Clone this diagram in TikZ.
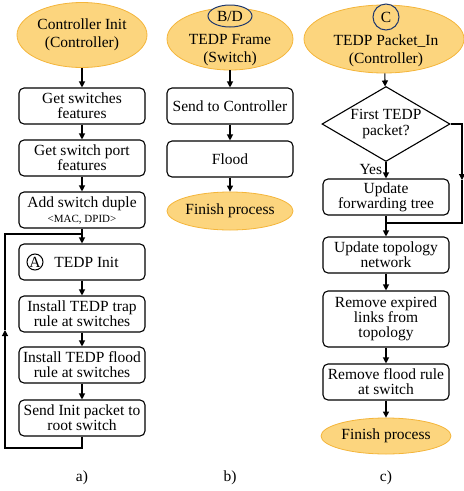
\documentclass[tikz,border=0pt]{standalone}
\usepackage{fontspec}
\setmainfont{Liberation Serif}
\usetikzlibrary{shapes.geometric,arrows.meta}
\definecolor{termfill}{RGB}{252,213,126}
\definecolor{termline}{RGB}{244,181,58}
\definecolor{tagline}{RGB}{31,56,110}
\tikzset{
  proc/.style={draw,rounded corners=5pt,line width=1.1pt,minimum width=126pt,minimum height=36pt,
    align=center,inner sep=1pt,font=\fontsize{15.5}{15}\selectfont},
  term/.style={ellipse,draw=termline,fill=termfill,line width=0.8pt,align=center,inner sep=0pt,
    font=\fontsize{15.5}{18}\selectfont},
  decide/.style={diamond,draw,line width=1.1pt,aspect=1.7,inner sep=0pt,minimum width=128pt,
    minimum height=75pt,align=center,font=\fontsize{15.5}{16}\selectfont},
  arr/.style={-{Triangle[length=6pt,width=6pt]},line width=1.1pt},
  link/.style={line width=1.1pt},
  tag/.style={draw=tagline,line width=1pt,inner sep=0pt,font=\fontsize{15.5}{15}\selectfont},
  txt/.style={align=center,font=\fontsize{15.5}{18}\selectfont},
}
\begin{document}
\begin{tikzpicture}[x=1pt,y=-1pt]
  \useasboundingbox (0,0) rectangle (464,491);
  % a) controller init
  \node[term,minimum width=130pt,minimum height=65pt] (cinit) at (82,35) {Controller Init\\(Controller)};
  \node[proc] (feat)  at (82,106) {Get switches\\features};
  \node[proc] (port)  at (82,158) {Get switch port\\features};
  \node[proc] (duple) at (82,210) {Add switch duple\\{\fontsize{11}{12}\selectfont <MAC, DPID>}};
  \node[proc] (init)  at (82,262) {\hspace{9pt}TEDP Init};
  \node[tag,circle,draw=black,minimum size=16pt] (tagA) at (35,262) {A};
  \node[proc] (trap)  at (82,314) {Install TEDP trap\\rule at switches};
  \node[proc] (flood) at (82,365) {Install TEDP flood\\rule at switches};
  \node[proc] (send)  at (82,418) {Send Init packet to\\root switch};
  \coordinate (loopB) at (5,448);
  \coordinate (loopM) at (5,330);
  \coordinate (loopT) at (5,234);
  \draw[arr] (cinit) -- (feat);
  \draw[arr] (feat) -- (port);
  \draw[arr] (port) -- (duple);
  \draw[arr] (duple) -- (init);
  \draw[arr] (init) -- (trap);
  \draw[arr] (trap) -- (flood);
  \draw[arr] (flood) -- (send);
  \draw[arr] (send.south) |- (loopB) -- (loopM);
  \draw[link] (loopM) -- (loopT) -- (loopT -| duple.south);
  \node[txt] (capa) at (82,478) {a)};
  % b) TEDP frame at switch
  \node[term,minimum width=126pt,minimum height=62pt] (frame) at (230,39) {};
  \node[txt] (frametxt) at (230,50) {TEDP Frame\\(Switch)};
  \node[tag,ellipse,fill=termfill,minimum width=44pt,minimum height=22pt] (tagBD) at (230,16) {B/D};
  \node[proc] (tocont) at (230,106) {Send to Controller};
  \node[proc] (fld)    at (230,159) {Flood};
  \node[term,minimum width=126pt,minimum height=38pt] (finb) at (230,211) {Finish process};
  \draw[arr] (frame) -- (tocont);
  \draw[arr] (tocont) -- (fld);
  \draw[arr] (fld) -- (finb);
  \node[txt] (capb) at (230,478) {b)};
  % c) TEDP packet_in at controller
  \node[term,minimum width=160pt,minimum height=68pt] (pktin) at (384,39) {};
  \node[txt] (pktintxt) at (386,51) {TEDP Packet\_In\\(Controller)};
  \node[tag,circle,fill=termfill,minimum size=26pt] (tagC) at (386,17) {C};
  \node[decide] (first) at (386,124) {First TEDP\\packet?};
  \node[proc] (fwd)    at (386,197) {Update\\forwarding tree};
  \node[proc] (topo)   at (386,255) {Update topology\\network};
  \node[proc,minimum height=56pt] (expire) at (386,319) {Remove expired\\links from\\topology};
  \node[proc] (rmflood) at (386,382) {Remove flood rule\\at switch};
  \node[term,minimum width=130pt,minimum height=36pt] (finc) at (386,436) {Finish process};
  \coordinate (noR) at (462,124);
  \coordinate (noM) at (462,180);
  \coordinate (noB) at (462,223);
  \draw[arr] (pktin) -- (first);
  \draw[arr] (first) -- node[txt,left,pos=0.45] (yes) {Yes} (fwd);
  \draw[arr] (first.east) -- (noR) -- (noM);
  \draw[link] (noM) -- (noB) -- (noB -| fwd.south);
  \draw[arr] (fwd) -- (topo);
  \draw[arr] (topo) -- (expire);
  \draw[arr] (expire) -- (rmflood);
  \draw[arr] (rmflood) -- (finc);
  \node[txt] (capc) at (386,478) {c)};
\end{tikzpicture}
\end{document}
